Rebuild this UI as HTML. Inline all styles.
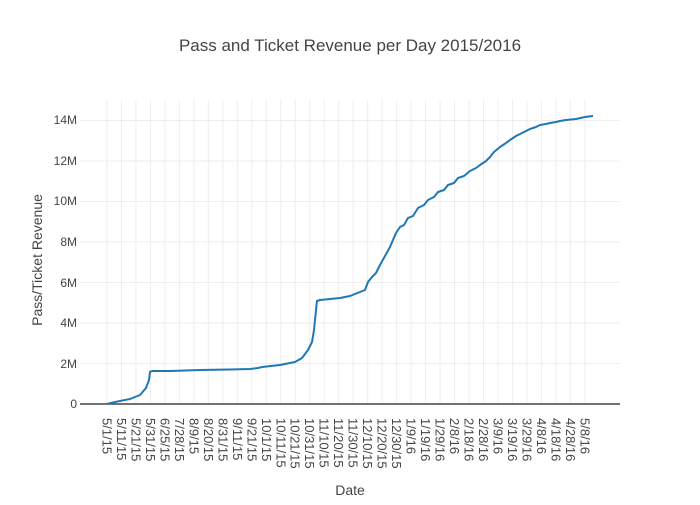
<!DOCTYPE html>
<html><head><style>
body{margin:0;background:#fff;}
svg text{font-family:"Liberation Sans",sans-serif;fill:#444;}
</style></head><body>
<svg width="700" height="500" xmlns="http://www.w3.org/2000/svg">
<text x="350" y="51" text-anchor="middle" font-size="17">Pass and Ticket Revenue per Day 2015/2016</text>
<g stroke="#eee" stroke-width="1">
<line x1="80" x2="620" y1="120.5" y2="120.5"/><line x1="80" x2="620" y1="161" y2="161"/><line x1="80" x2="620" y1="201.5" y2="201.5"/><line x1="80" x2="620" y1="242" y2="242"/><line x1="80" x2="620" y1="282.5" y2="282.5"/><line x1="80" x2="620" y1="323" y2="323"/><line x1="80" x2="620" y1="363.5" y2="363.5"/>
</g>
<g id="vg" stroke="#eee" stroke-width="1"></g>
<line x1="80" x2="620" y1="404" y2="404" stroke="#444" stroke-width="1.5"/>
<g font-size="12" text-anchor="end">
<text x="77" y="408">0</text><text x="77" y="368">2M</text><text x="77" y="327">4M</text><text x="77" y="287">6M</text><text x="77" y="246">8M</text><text x="77" y="205">10M</text><text x="77" y="165">12M</text><text x="77" y="124">14M</text>
</g>
<g id="xl" font-size="13"></g>
<text transform="translate(42,260) rotate(-90)" text-anchor="middle" font-size="14">Pass/Ticket Revenue</text>
<text x="350" y="495" text-anchor="middle" font-size="14">Date</text>
<polyline fill="none" stroke="#1f77b4" stroke-width="2" stroke-linejoin="round" points="107,404 115,402 130,399 140,395 146,388 149,380 150,372 152,371 170,371 200,370 230,369.5 250,369 258,368 262,367 280,365 295,362 302,358 308,350 312,342 314,330 316,310 317,301 320,300 340,298 350,296 360,292 365,290 368,282 372,277 376,273 380,265 390,247 396,233 400,227 404,225 408,218 413,216 418,208 424,205 428,200 434,197 438,192 444,190 448,185 454,183 458,178 464,176 470,171 476,168 480,165 486,161 490,157 494,152 500,147 506,143 510,140 516,136 520,134 526,131 530,129 536,127 540,125 546,124 550,123 556,122 560,121 566,120 576,119 585,117 593,116"/>
</svg>
<script>
var labs=["5/1/15","5/11/15","5/21/15","5/31/15","6/25/15","7/28/15","8/9/15","8/20/15","8/31/15","9/11/15","9/21/15","10/1/15","10/11/15","10/21/15","10/31/15","11/10/15","11/20/15","11/30/15","12/10/15","12/20/15","12/30/15","1/9/16","1/19/16","1/29/16","2/8/16","2/18/16","2/28/16","3/9/16","3/19/16","3/29/16","4/8/16","4/18/16","4/28/16","5/8/16"];
var ns="http://www.w3.org/2000/svg",vg=document.getElementById("vg"),xl=document.getElementById("xl");
labs.forEach(function(l,i){var x=107+i*14.48;
var ln=document.createElementNS(ns,"line");ln.setAttribute("x1",x);ln.setAttribute("x2",x);ln.setAttribute("y1",100);ln.setAttribute("y2",404);vg.appendChild(ln);
var t=document.createElementNS(ns,"text");t.setAttribute("transform","translate("+(x-4.5)+",418) rotate(90)");t.textContent=l;xl.appendChild(t);});
</script>
</body></html>
